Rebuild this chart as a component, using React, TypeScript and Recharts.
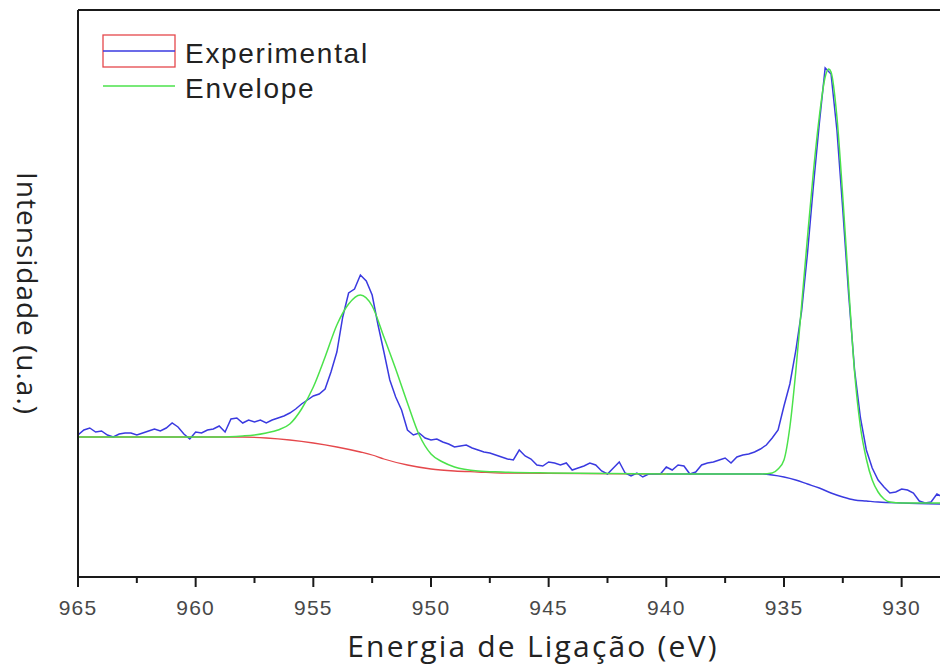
import { Label, Legend, Line, LineChart, XAxis, YAxis } from "recharts";

// XPS Cu 2p — binding energy grid for the measured spectrum (0.25 eV steps from 965 eV)
const E_START = 965;
const E_STEP = 0.25;

const experimental = [
  142, 147, 149, 145, 146, 142, 140, 143, 144, 144,
  142, 144, 146, 148, 146, 149, 154, 150, 143, 138,
  145, 144, 147, 148, 151, 145, 158, 159, 154, 157,
  155, 157, 154, 157, 159, 161, 164, 168, 173, 177,
  181, 183, 188, 205, 225, 260, 284, 288, 302, 296,
  282, 252, 225, 197, 180, 167, 147, 142, 144, 139,
  137, 138, 135, 133, 130, 131, 132, 129, 127, 125,
  124, 122, 120, 118, 117, 127, 121, 118, 112, 111,
  115, 114, 112, 114, 107, 109, 111, 114, 112, 106,
  103, 109, 115, 104, 101, 104, 100, 103, 103, 103,
  110, 107, 112, 111, 103, 105, 112, 114, 115, 117,
  119, 114, 120, 122, 123, 125, 128, 132, 139, 147,
  171, 193, 226, 266, 324, 391, 453, 509, 503, 447,
  367, 282, 207, 159, 127, 109, 97, 90, 84, 85,
  88, 87, 84, 76, 74, 75, 83, 80,
];

const envelopeEnergy = [
  965, 962, 959, 958, 957.5, 957, 956.5, 956, 955.5, 955, 954.5, 954, 953.5, 953,
  952.5, 952, 951.5, 951, 950.5, 950, 949.5, 949, 948, 947, 945, 940, 936, 935.5,
  935.25, 935, 934.75, 934.5, 934.25, 934, 933.75, 933.5, 933.25, 933.1, 933, 932.75,
  932.5, 932.25, 932, 931.75, 931.5, 931.25, 931, 930.75, 930.5, 930, 928.25,
];
const envelope = [
  140, 140, 140, 141, 142, 144, 147, 153, 168, 190, 220, 252, 273, 282,
  271, 240, 208, 174, 142, 123, 115, 110, 106, 105, 104, 103, 103, 104,
  108, 117, 150, 205, 272, 340, 405, 460, 500, 508, 505, 460,
  380, 290, 205, 150, 118, 97, 85, 78, 75, 74, 74,
];

// Shirley backgrounds under the two peaks
const bgHighEnergy = [965, 958, 957, 956, 955, 954, 953, 952.5, 952, 951, 950, 949, 948, 947, 940];
const bgHigh = [140, 140, 139, 137, 134, 130, 125, 122, 118, 112, 108, 106, 105, 104, 103];
const bgLowEnergy = [940, 936, 935.5, 935, 934.5, 934, 933.5, 933, 932.5, 932, 931.5, 931, 930, 928.25];
const bgLow = [103, 103, 102, 100, 97, 93, 89, 84, 80, 77, 76, 75, 74, 73];

const MAJOR_TICKS = [965, 960, 955, 950, 945, 940, 935, 930];
const MINOR_TICKS = [962.5, 957.5, 952.5, 947.5, 942.5, 937.5, 932.5, 927.5];
const X_MIN = 926.33;
const X_MAX = 965;

const BLUE = "#3a3ae0";
const GREEN = "#4be24b";
const RED = "#e5484c";
const AXIS = "#1a1a1a";

const LEGEND_ITEMS = [
  { label: "Experimental", color: BLUE, box: RED },
  { label: "Envelope", color: GREEN, box: null },
];

const expData = experimental.map((v, i) => ({ e: E_START - i * E_STEP, v }));
const envData = envelopeEnergy.map((e, i) => ({ e, v: envelope[i] }));
const bgHighData = bgHighEnergy.map((e, i) => ({ e, v: bgHigh[i] }));
const bgLowData = bgLowEnergy.map((e, i) => ({ e, v: bgLow[i] }));

const labelFont = "'Liberation Sans', Arial, sans-serif";
const titleFont = "'Open Sans', 'Noto Sans', sans-serif";

function EnergyTick({ x, y, payload }: any) {
  const major = MAJOR_TICKS.includes(payload.value);
  return (
    <g>
      <line x1={x} x2={x} y1={y} y2={y + (major ? 10 : 6)} stroke={AXIS} strokeWidth={2} />
      {major && (
        <text
          x={x}
          y={y + 38}
          textAnchor="middle"
          fontFamily={labelFont}
          fontSize={21}
          letterSpacing={1.2}
          fill="#484848"
        >
          {payload.value}
        </text>
      )}
    </g>
  );
}

function LegendBox() {
  return (
    <svg width={420} height={110}>
      {LEGEND_ITEMS.map((item, i) => {
        const cy = 51 + i * 35;
        return (
          <g key={item.label}>
            {item.box && (
              <rect x={103} y={cy - 16} width={72} height={32} fill="none" stroke={item.box} strokeWidth={1.3} />
            )}
            <line x1={103} x2={175} y1={cy} y2={cy} stroke={item.color} strokeWidth={1.5} />
            <text x={185} y={cy + 12} fontFamily={labelFont} fontSize={28} letterSpacing={1.7} fill="#222">
              {item.label}
            </text>
          </g>
        );
      })}
    </svg>
  );
}

export default function App() {
  return (
    <div
      style={{
        position: "absolute",
        left: 0,
        top: 0,
        width: 940,
        height: 667,
        overflow: "hidden",
        background: "#fff",
      }}
    >
      <LineChart width={988} height={667} margin={{ top: 9, right: 0, bottom: 0, left: 77 }}>
        <XAxis
          dataKey="e"
          type="number"
          domain={[X_MIN, X_MAX]}
          reversed
          allowDataOverflow
          ticks={[...MAJOR_TICKS, ...MINOR_TICKS]}
          interval={0}
          tick={<EnergyTick />}
          tickLine={false}
          tickSize={0}
          tickMargin={0}
          height={90}
          axisLine={{ stroke: AXIS, strokeWidth: 2 }}
        >
          <Label
            content={({ viewBox }: any) => (
              <text
                x={viewBox.x + viewBox.width / 2}
                y={viewBox.y + 80}
                textAnchor="middle"
                fontFamily={titleFont}
                fontSize={30}
                letterSpacing={2.2}
                fill="#222"
              >
                Energia de Ligação (eV)
              </text>
            )}
          />
        </XAxis>
        <XAxis
          xAxisId="top"
          orientation="top"
          dataKey="e"
          type="number"
          domain={[X_MIN, X_MAX]}
          reversed
          allowDataOverflow
          height={1}
          tick={false}
          tickLine={false}
          axisLine={{ stroke: AXIS, strokeWidth: 2 }}
        />
        <YAxis
          type="number"
          domain={[0, 567]}
          width={1}
          tick={false}
          tickLine={false}
          axisLine={{ stroke: AXIS, strokeWidth: 2 }}
        >
          <Label
            content={({ viewBox }: any) => {
              const cx = viewBox.x - 49;
              const cy = viewBox.y + viewBox.height / 2;
              return (
                <text
                  x={cx}
                  y={cy}
                  transform={`rotate(90 ${cx} ${cy})`}
                  textAnchor="middle"
                  dominantBaseline="central"
                  fontFamily={titleFont}
                  fontSize={28}
                  letterSpacing={1}
                  fill="#222"
                >
                  Intensidade (u.a.)
                </text>
              );
            }}
          />
        </YAxis>
        <Legend
          layout="horizontal"
          verticalAlign="middle"
          align="center"
          content={() => <LegendBox />}
          wrapperStyle={{ left: 0, top: 0, width: 420, height: 110 }}
        />
        <Line data={bgHighData} dataKey="v" type="monotone" stroke={RED} strokeWidth={1.3} dot={false} isAnimationActive={false} legendType="none" />
        <Line data={bgLowData} dataKey="v" type="monotone" stroke={BLUE} strokeWidth={1.4} dot={false} isAnimationActive={false} legendType="none" />
        <Line data={expData} dataKey="v" type="linear" stroke={BLUE} strokeWidth={1.5} dot={false} isAnimationActive={false} name="Experimental" />
        <Line data={envData} dataKey="v" type="monotone" stroke={GREEN} strokeWidth={1.5} dot={false} isAnimationActive={false} name="Envelope" />
      </LineChart>
    </div>
  );
}
